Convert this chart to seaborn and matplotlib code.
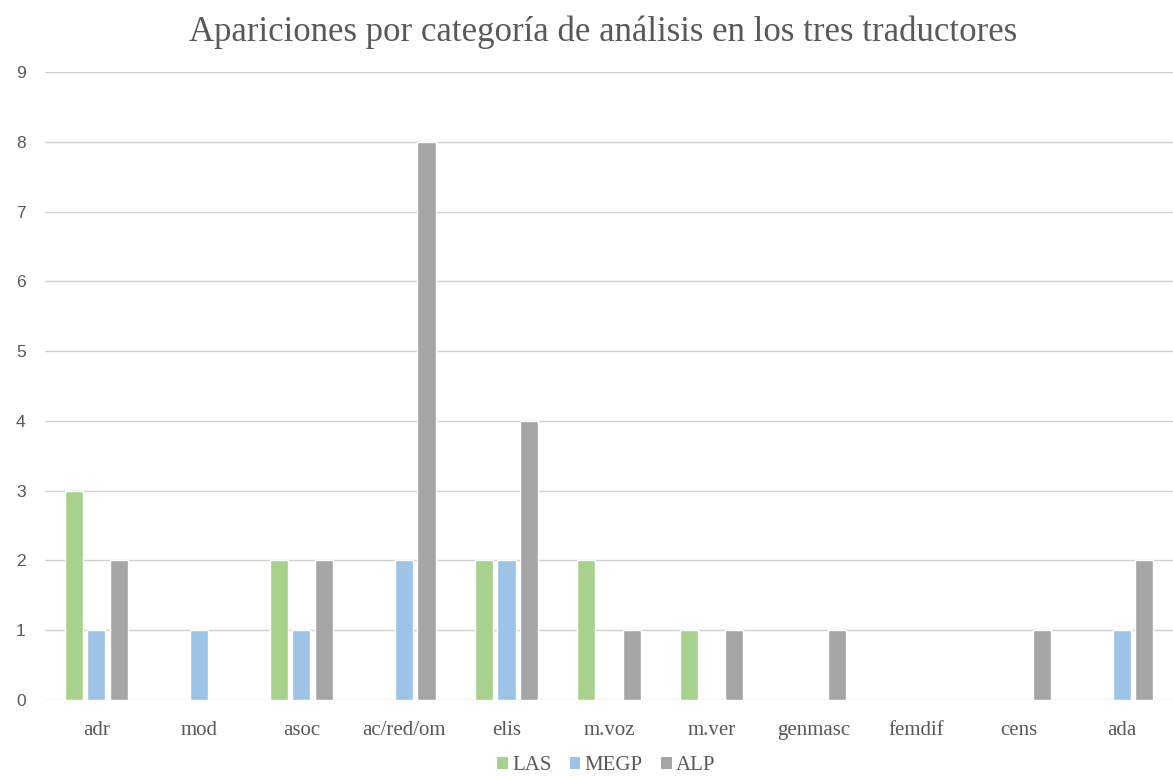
import matplotlib
matplotlib.use("Agg")
import matplotlib.pyplot as plt
import seaborn as sns
import pandas as pd
from matplotlib.patches import Patch

categories = ["adr", "mod", "asoc", "ac/red/om", "elis", "m.voz", "m.ver",
              "genmasc", "femdif", "cens", "ada"]
las = [3, 0, 2, 0, 2, 2, 1, 0, 0, 0, 0]
megp = [1, 1, 1, 2, 2, 0, 0, 0, 0, 0, 1]
alp = [2, 0, 2, 8, 4, 1, 1, 1, 0, 1, 2]
series = ["LAS", "MEGP", "ALP"]
colors = ["#a9d18e", "#9dc3e6", "#a5a5a5"]
yticks = list(range(0, 10))

df = pd.DataFrame({"cat": categories * 3,
                   "serie": [s for s in series for _ in categories],
                   "val": las + megp + alp})

sns.set_style("white")
plt.rcParams['font.family'] = ['Liberation Serif', 'DejaVu Serif']

fig = plt.figure(figsize=(11.73, 7.76), dpi=100)
ax = fig.add_axes([0.0384, 0.0979, 0.9616, 0.8093])

sns.barplot(data=df, x="cat", y="val", hue="serie", palette=colors,
            width=0.66, gap=0.2, ax=ax, legend=False, saturation=1)

ax.set_xlim(-0.5, 10.5)
ax.set_ylim(0, 9)
ax.set_yticks(yticks)
ax.set_yticklabels([str(v) for v in yticks], family=['Liberation Sans', 'DejaVu Sans'],
                   fontsize=12.5, color="#595959")
ax.set_xticklabels(categories, fontsize=15, color="#595959")
ax.tick_params(axis='both', length=0)
ax.tick_params(axis='y', pad=14)
ax.tick_params(axis='x', pad=15)
ax.set_xlabel("")
ax.set_ylabel("")
ax.grid(axis='y', color="#d0d0d0", linewidth=1)
ax.set_axisbelow(True)
for s in ax.spines.values():
    s.set_visible(False)

fig.text(0.514, 0.958, "Apariciones por categoría de análisis en los tres traductores",
         ha='center', va='center', fontsize=25, color="#595959")

handles = [Patch(facecolor=c, edgecolor='none') for c in colors]
fig.legend(handles, series, loc='center', bbox_to_anchor=(0.517, 0.013), ncol=3,
           frameon=False, fontsize=15, handlelength=0.5, handleheight=0.5,
           handletextpad=0.2, columnspacing=0.9, labelcolor="#595959",
           borderpad=0)

fig.savefig("out.png", dpi=100)
